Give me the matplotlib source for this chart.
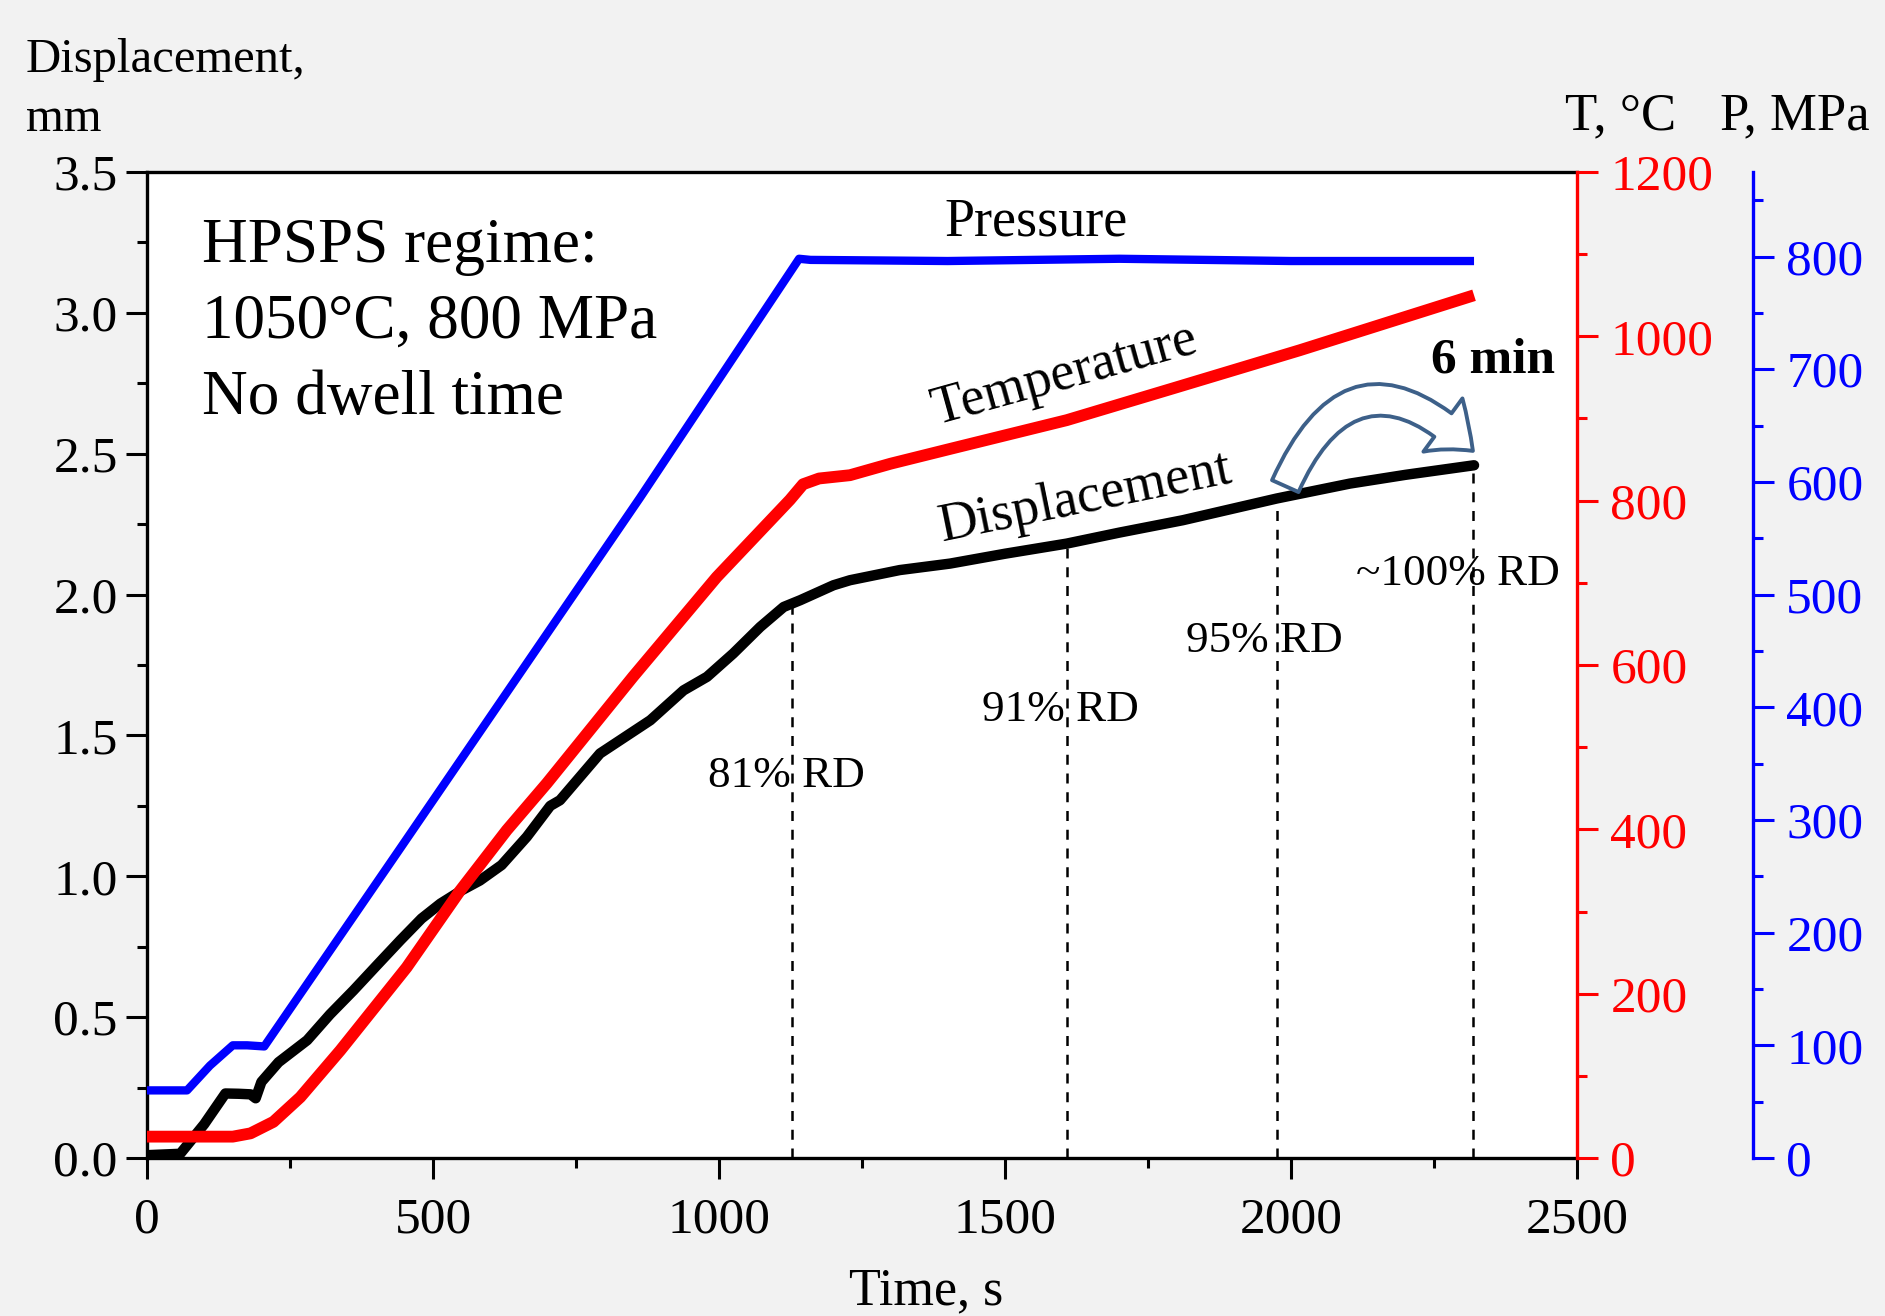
import numpy as np
import matplotlib
matplotlib.use("Agg")
import matplotlib.pyplot as plt
from matplotlib.patches import FancyArrowPatch
from matplotlib.ticker import MultipleLocator

plt.rcParams['font.family'] = ['Liberation Serif', 'DejaVu Serif']
plt.rcParams['mathtext.fontset'] = 'stix'

# displacement, mm
t_disp = [0, 58, 100, 137, 160, 181, 190, 200, 230, 280, 320, 361, 400, 443, 480,
          513, 550, 582, 620, 664, 705, 722, 792, 880, 938, 979, 1025, 1072, 1113,
          1142, 1200, 1229, 1316, 1404, 1500, 1608, 1700, 1811, 1975, 2103, 2200, 2320]
d_disp = [0.01, 0.015, 0.12, 0.229, 0.228, 0.226, 0.212, 0.27, 0.34, 0.418, 0.51,
          0.595, 0.68, 0.773, 0.85, 0.903, 0.95, 0.985, 1.04, 1.14, 1.25, 1.27,
          1.436, 1.554, 1.66, 1.708, 1.791, 1.885, 1.956, 1.98, 2.033, 2.051,
          2.087, 2.11, 2.145, 2.181, 2.22, 2.264, 2.341, 2.394, 2.425, 2.459]

# temperature, C
t_temp = [0, 150, 181, 221, 268, 338, 454, 547, 629, 699, 850, 996, 1124, 1147,
          1175, 1229, 1300, 1404, 1608, 1800, 2015, 2320]
T_temp = [26, 26, 30, 44, 74, 131, 232, 325, 399, 456, 586, 707, 801, 820,
          827, 831, 845, 863, 898, 938, 983, 1050]

# pressure, MPa
t_pres = [0, 70, 110, 150, 175, 205, 443, 862, 1140, 1160, 1400, 1700, 2000, 2320]
p_pres = [60, 60, 82, 100, 100, 99, 275, 586, 798, 797, 796, 798, 796, 796]

# relative density marks
t_rd = [1127, 1608, 1975, 2318]
rd_labels = ["81% RD", "91% RD", "95% RD", "~100% RD"]

W, H = 1885, 1316
fig = plt.figure(figsize=(W / 100, H / 100), dpi=100, facecolor='#f2f2f2')
ax = fig.add_axes([147 / W, 1 - 1158 / H, 1430 / W, 986 / H])
ax.set_facecolor('white')

axT = ax.twinx()
axP = ax.twinx()
axP.spines['right'].set_position(('axes', 1 + 176 / 1430))

for a in (ax, axT, axP):
    for s in a.spines.values():
        s.set_linewidth(2.4)
ax.spines['right'].set_visible(False)
for a in (axT, axP):
    for k in ('top', 'left', 'bottom'):
        a.spines[k].set_visible(False)
axT.spines['right'].set_color('red')
axP.spines['right'].set_color('blue')

# curves
ax.plot(t_disp, d_disp, color='black', lw=7.5, solid_capstyle='round',
        solid_joinstyle='round')
axT.plot(t_temp, T_temp, color='red', lw=8.5, solid_capstyle='butt',
         solid_joinstyle='round')
axP.plot(t_pres, p_pres, color='blue', lw=6, solid_capstyle='butt',
         solid_joinstyle='round')

ax.set_xlim(0, 2500)
ax.set_ylim(0, 3.5)
axT.set_ylim(0, 1200)
axP.set_ylim(0, 875)

ax.xaxis.set_major_locator(MultipleLocator(500))
ax.xaxis.set_minor_locator(MultipleLocator(250))
ax.yaxis.set_major_locator(MultipleLocator(0.5))
ax.yaxis.set_minor_locator(MultipleLocator(0.25))
ax.yaxis.set_major_formatter(matplotlib.ticker.FormatStrFormatter('%.1f'))
axT.yaxis.set_major_locator(MultipleLocator(200))
axT.yaxis.set_minor_locator(MultipleLocator(100))
axP.yaxis.set_major_locator(MultipleLocator(100))
axP.yaxis.set_minor_locator(MultipleLocator(50))

ax.tick_params(axis='x', which='major', direction='out', length=15, width=2.2,
               labelsize=37, pad=13)
ax.tick_params(axis='x', which='minor', direction='out', length=7.5, width=2.2)
ax.tick_params(axis='y', which='major', direction='out', length=15, width=2.2,
               labelsize=37, pad=6)
ax.tick_params(axis='y', which='minor', direction='out', length=7.5, width=2.2)
axT.tick_params(axis='y', which='major', direction='out', length=15, width=2.2,
                labelsize=37, pad=9, colors='red')
axT.tick_params(axis='y', which='minor', direction='out', length=7.5, width=2.2,
                colors='red')
axP.tick_params(axis='y', which='major', direction='out', length=15, width=2.2,
                labelsize=37, pad=9, colors='blue')
axP.tick_params(axis='y', which='minor', direction='out', length=7.5, width=2.2,
                colors='blue')

# dashed lines down from the displacement curve
for t in t_rd:
    d = np.interp(t, t_disp, d_disp)
    ax.plot([t, t], [0, d], color='black', lw=1.8, ls=(0, (4, 3.5)))

ax.text(1118, 1.357, rd_labels[0], fontsize=32.5, ha='center', va='center')
ax.text(1597, 1.592, rd_labels[1], fontsize=32.5, ha='center', va='center')
ax.text(1954, 1.835, rd_labels[2], fontsize=32.5, ha='center', va='center')
ax.text(2292, 2.074, rd_labels[3], fontsize=32.5, ha='center', va='center')

# curve names
ax.text(1555, 3.32, "Pressure", fontsize=39, ha='center', va='center')
ax.text(1605, 2.778, "Temperature", fontsize=39, ha='center', va='center',
        rotation=15.5, rotation_mode='anchor')
ax.text(1641, 2.339, "Displacement", fontsize=39, ha='center', va='center',
        rotation=11.5, rotation_mode='anchor')

ax.text(0.0385, 0.953, "HPSPS regime:\n1050°C, 800 MPa\nNo dwell time",
        transform=ax.transAxes, fontsize=45.5, ha='left', va='top', linespacing=1.4)

ax.text(2353, 2.83, "6 min", fontsize=37, fontweight='bold', ha='center', va='center')
arrow = FancyArrowPatch(posA=(1990, 2.385), posB=(2318, 2.51),
                        connectionstyle='arc3,rad=-0.72',
                        arrowstyle='simple,head_length=0.75,head_width=1.25,tail_width=0.55',
                        mutation_scale=38, fc='white', ec='#3d6089', lw=2.8,
                        shrinkA=0, shrinkB=0, zorder=5)
ax.add_patch(arrow)

# axis titles
fig.text(26 / W, 1 - 60 / H, "Displacement,", fontsize=35, ha='left', va='center')
fig.text(26 / W, 1 - 119 / H, "mm", fontsize=35, ha='left', va='center')
fig.text(1621 / W, 1 - 116 / H, "T, °C", fontsize=38, ha='center', va='center')
fig.text(1795 / W, 1 - 116 / H, "P, MPa", fontsize=38, ha='center', va='center')
fig.text(926 / W, 1 - 1291 / H, "Time, s", fontsize=37.5, ha='center', va='center')

fig.savefig("out.png", dpi=100, facecolor=fig.get_facecolor())
